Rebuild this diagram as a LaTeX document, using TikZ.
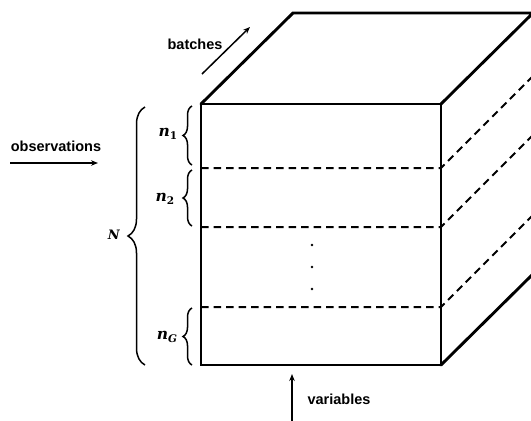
\documentclass[tikz,border=0pt]{standalone}
\usepackage{fontspec}
\setsansfont{Liberation Sans}
\newfontfamily\symfont{DejaVu Serif}
\usetikzlibrary{arrows.meta,decorations.pathreplacing}
% bold italic group symbol with a lowered index
\newcommand{\grpsym}[2]{\textbf{\textit{#1}}\raisebox{-0.35ex}{\fontsize{10.5}{11}\selectfont\textbf{#2}}}
\begin{document}
\begin{tikzpicture}[x=1pt,y=-1pt,
  edge/.style={line width=2.9pt,line cap=round,line join=miter},
  slice/.style={line width=2pt,dash pattern=on 7.5pt off 5pt},
  curly/.style={decorate,decoration={brace,amplitude=#1},line width=1.5pt},
  pointer/.style={line width=1.5pt,-{Stealth[length=7pt,width=5.5pt]}},
  caption/.style={font=\sffamily\bfseries\fontsize{14.5}{16}\selectfont,inner sep=0pt},
  sym/.style={font=\symfont\fontsize{15.5}{17}\selectfont,inner sep=0pt}]
\useasboundingbox (0,0) rectangle (531,421);
\clip (0,0) rectangle (531,421);

% front face corners and depth offset
\coordinate (FTL) at (201,104);
\coordinate (FTR) at (441,104);
\coordinate (FBL) at (201,365);
\coordinate (FBR) at (441,365);
\coordinate (BTL) at (293,13);
\coordinate (BTR) at (533,13);
\coordinate (BBR) at (533,274);

% slice boundaries on the front face
\coordinate (S1L) at (201,168); \coordinate (S1R) at (441,168);
\coordinate (S2L) at (201,227); \coordinate (S2R) at (441,227);
\coordinate (S3L) at (201,307); \coordinate (S3R) at (441,307);
\coordinate (S1B) at (533,76);
\coordinate (S2B) at (533,135);
\coordinate (S3B) at (533,215);

% dashed slices
\draw[slice] (S1L) -- (S1R) -- (S1B);
\draw[slice] (S2L) -- (S2R) -- (S2B);
\draw[slice] (S3L) -- (S3R) -- (S3B);

% cube edges
\draw[edge] (FTL) -- (FTR) -- (FBR) -- (FBL) -- cycle;
\draw[edge] (FTL) -- (BTL) -- (BTR) -- (FTR);
\draw[edge] (FBR) -- (BBR) -- (BTR);

% vertical ellipsis
\fill (312,245) circle (1.3) (312,267) circle (1.3) (312,289) circle (1.3);

% group braces
\draw[curly=9pt] (192,165) -- (192,106);
\draw[curly=9pt] (192,226) -- (192,170);
\draw[curly=9pt] (192,365) -- (192,308);
\draw[curly=17pt] (145,365) -- (145,107);

\node[sym] (n1) at (168,134) {\grpsym{n}{1}};
\node[sym] (n2) at (165,199) {\grpsym{n}{2}};
\node[sym] (nG) at (167,337) {\grpsym{n}{\textit{G}}};
\node[sym,font=\symfont\fontsize{13}{15}\selectfont] (NN) at (114,235) {\textbf{\textit{N}}};

% axis captions and arrows
\node[caption] (obs) at (56,146) {observations};
\coordinate (obsA) at (10,163);
\coordinate (obsB) at (98,163);
\draw[pointer] (obsA) -- (obsB);

\node[caption] (bat) at (195,44) {batches};
\coordinate (batA) at (202,74);
\coordinate (batB) at (250,27);
\draw[pointer] (batA) -- (batB);

\node[caption] (var) at (339,399) {variables};
\coordinate (varA) at (292,424);
\coordinate (varB) at (292,374);
\draw[pointer] (varA) -- (varB);
\end{tikzpicture}
\end{document}
